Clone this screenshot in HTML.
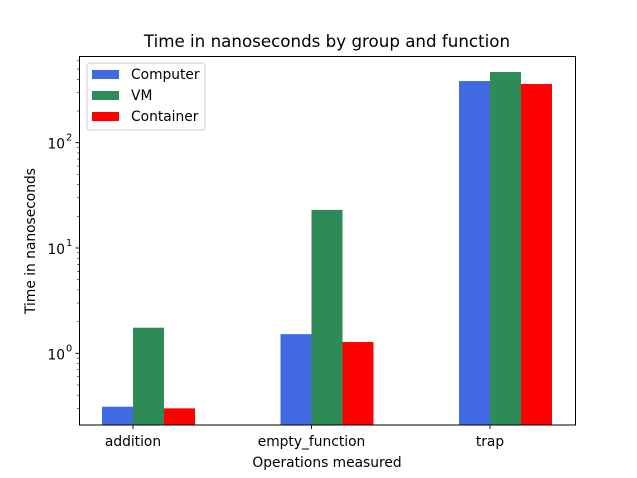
<!DOCTYPE html>
<html><head><meta charset="utf-8"><style>body{margin:0;background:#fff}svg{display:block}text{font-family:"DejaVu Sans","Liberation Sans",sans-serif;fill:#000}</style></head>
<body>
<svg id="chart" width="637" height="478" viewBox="0 0 637 478"></svg>
<script>
const categories = ["addition","empty_function","trap"];
const seriesNames = ["Computer","VM","Container"];
const seriesColors = ["#4169e1","#2e8b57","#ff0000"];
const computerValues = [0.311, 1.52, 385];
const vmValues = [1.75, 23.0, 469];
const containerValues = [0.30, 1.28, 361];
const yTickExps = [0, 1, 2];

const svg = document.getElementById('chart');
const NS = 'http://www.w3.org/2000/svg';
const L = 79.5, R = 575.5, T = 56.5, B = 425;
const y0 = 353.3, dec = 105.3;
function yScale(v){ return y0 - Math.log10(v)*dec; }
function xScale(i){ return 133 + i*178.5; }
const barW = 31;
function mk(tag, attrs, parent){ const e = document.createElementNS(NS, tag); for (const k in attrs) e.setAttribute(k, attrs[k]); (parent||svg).appendChild(e); return e; }

const title = mk('text', {x: 327, y: 47, 'text-anchor':'middle', 'font-size': 16.7});
title.textContent = 'Time in nanoseconds by group and function';



const all = [computerValues, vmValues, containerValues];
all.forEach((vals, s) => {
  vals.forEach((v, i) => {
    const x = xScale(i) + (s-1)*barW;
    const yt = yScale(v);
    const r = mk('rect', {x: x, y: yt, width: barW, height: B - yt, fill: seriesColors[s]});
    
    
  });
});

const frame = mk('rect', {x: L, y: T, width: R-L, height: B-T, fill: 'none', stroke: '#000', 'stroke-width': 1});



const yMin = Math.pow(10, (y0-B)/dec), yMax = Math.pow(10, (y0-T)/dec);
for (let e = -1; e <= 3; e++) {
  for (let m = 1; m <= 9; m++) {
    const v = m*Math.pow(10, e);
    if (v < yMin || v > yMax) continue;
    const y = yScale(v);
    mk('line', {x1: L, x2: L - (m===1?4:2.3), y1: y, y2: y, stroke: '#000', 'stroke-width': (m===1?0.9:0.6)});
  }
}
yTickExps.forEach(e => {
  const y = yScale(Math.pow(10, e));
  const t = mk('text', {x: 65, y: y + 6, 'text-anchor':'end', 'font-size': 13.8});
  t.textContent = '10';
  const sup = mk('text', {x: 66, y: y - 2, 'text-anchor':'start', 'font-size': 9.8});
  sup.textContent = String(e);
  
  
});

categories.forEach((c, i) => {
  const x = xScale(i);
  mk('line', {x1: x, x2: x, y1: B, y2: B + 4, stroke: '#000', 'stroke-width': 0.9});
  const t = mk('text', {x: x, y: 446, 'text-anchor':'middle', 'font-size': 13.8});
  t.textContent = c;
  
  
});

const xt = mk('text', {x: 327, y: 467, 'text-anchor':'middle', 'font-size': 13.8});
xt.textContent = 'Operations measured';


const yt = mk('text', {x: 35, y: 241, 'text-anchor':'middle', 'font-size': 13.8, transform: 'rotate(-90 35 241)'});
yt.textContent = 'Time in nanoseconds';



const lg = mk('g', {});


mk('rect', {x: 87, y: 63, width: 118, height: 67, rx: 3, fill: '#fff', 'fill-opacity': 0.8, stroke: '#ccc', 'stroke-width': 1}, lg);
seriesNames.forEach((n, s) => {
  const y = 74 + s*21;
  mk('rect', {x: 92, y: y - 4, width: 27, height: 9, fill: seriesColors[s]}, lg);
  const t = mk('text', {x: 131, y: y + 5, 'font-size': 13.8}, lg);
  t.textContent = n;
  
  
});
</script>
</body></html>
